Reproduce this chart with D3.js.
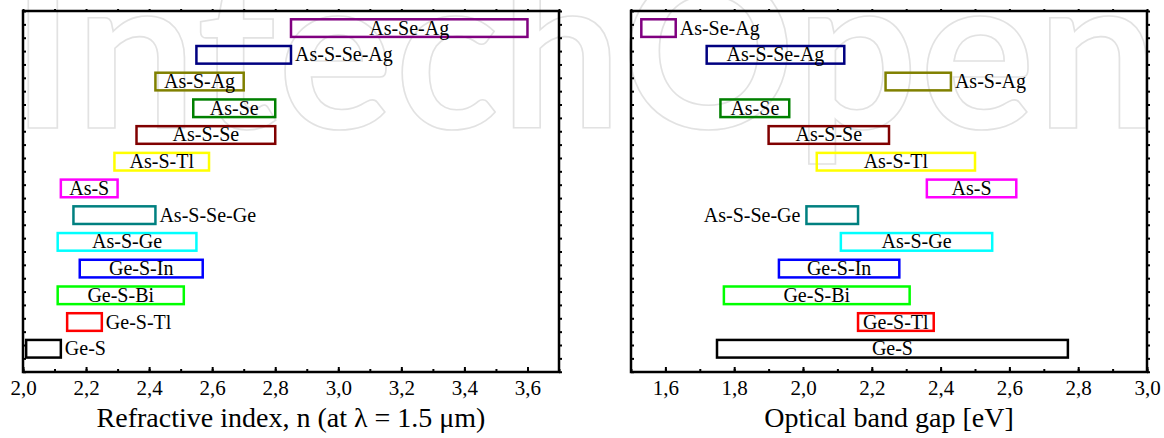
<!DOCTYPE html>
<html>
<head>
<meta charset="utf-8">
<script src="https://cdn.jsdelivr.net/npm/d3@7"></script>
<style>
  body { margin: 0; background: #fff; }
  svg { display: block; }
</style>
</head>
<body>
<svg id="chart" width="1164" height="438"></svg>
<script>
// rows from bottom (index 0) to top (index 12)
const glasses = ['Ge-S', 'Ge-S-Tl', 'Ge-S-Bi', 'Ge-S-In', 'As-S-Ge', 'As-S-Se-Ge', 'As-S',
                 'As-S-Tl', 'As-S-Se', 'As-Se', 'As-S-Ag', 'As-S-Se-Ag', 'As-Se-Ag'];
const glassColors = ['#000000', '#ff0000', '#00ff00', '#0000ff', '#00ffff', '#008080', '#ff00ff',
                     '#ffff00', '#800000', '#008000', '#808000', '#000080', '#800080'];

// refractive index ranges (at 1.5 um)
const refrLow  = [2.01, 2.14, 2.11, 2.18, 2.11, 2.16, 2.12, 2.29, 2.36, 2.54, 2.42, 2.55, 2.85];
const refrHigh = [2.12, 2.25, 2.51, 2.57, 2.55, 2.42, 2.30, 2.59, 2.80, 2.80, 2.70, 2.85, 3.60];
const refrLabelSide = ['right', 'right', 'in', 'in', 'in', 'right', 'in', 'in', 'in', 'in', 'in', 'right', 'in'];
const refrTicks = [2.0, 2.2, 2.4, 2.6, 2.8, 3.0, 3.2, 3.4, 3.6];

// optical band gap ranges (eV)
const gapLow  = [1.75, 2.16, 1.77, 1.93, 2.11, 2.01, 2.36, 2.04, 1.90, 1.76, 2.24, 1.72, 1.53];
const gapHigh = [2.77, 2.38, 2.31, 2.28, 2.55, 2.16, 2.62, 2.50, 2.25, 1.96, 2.43, 2.12, 1.63];
const gapLabelSide = ['in', 'in', 'in', 'in', 'in', 'left', 'in', 'in', 'in', 'in', 'right', 'in', 'right'];
const gapTicks = [1.6, 1.8, 2.0, 2.2, 2.4, 2.6, 2.8, 3.0];

const svg = d3.select('#chart');
const plotTop = 11, plotBottom = 372;
const serif = "'Liberation Serif'";
const fmt = d3.formatLocale({decimal: ',', thousands: '.', grouping: [3], currency: ['', '']}).format('.1f');

// faint publisher watermark behind everything
svg.append('text')
    .attr('x', 11)
    .attr('y', 128)
    .attr('textLength', 1147)
    .attr('lengthAdjust', 'spacing')
    .style('font-family', "'Lato'")
    .attr('font-weight', 700)
    .attr('font-size', 215)
    .attr('fill', 'none')
    .attr('stroke', '#e2e2e2')
    .attr('stroke-width', 1.6)
    .text('IntechOpen');

function styleAxis(g) {
    g.select('.domain').remove();
    g.style('font-family', serif).attr('font-size', 21);
    g.selectAll('.tick line').attr('stroke', '#000').attr('stroke-width', 2);
    g.selectAll('.tick text').attr('fill', '#000');
}

function drawPanel(cfg) {
    let x = d3.scaleLinear().domain(cfg.domain).range([cfg.left, cfg.right]);
    let y = d3.scaleLinear().domain([-0.87, 12.64]).range([plotBottom, plotTop]);
    let g = svg.append('g');

    let minor = d3.range(cfg.domain[0], cfg.domain[1] + 0.001, 0.1).map(v => +v.toFixed(1));
    let yTicks = d3.range(12.64, -0.87, -0.5);

    g.append('g')
        .attr('transform', 'translate(0,' + plotBottom + ')')
        .call(d3.axisBottom(x).tickValues(minor).tickSize(-3).tickSizeOuter(0).tickFormat(''))
        .call(styleAxis);
    g.append('g')
        .attr('transform', 'translate(0,' + plotBottom + ')')
        .call(d3.axisBottom(x).tickValues(cfg.ticks).tickSize(-5).tickSizeOuter(0).tickPadding(8).tickFormat(fmt))
        .call(styleAxis);
    g.append('g')
        .attr('transform', 'translate(0,' + plotTop + ')')
        .call(d3.axisTop(x).tickValues(minor).tickSize(2).tickSizeOuter(0).tickFormat(''))
        .call(styleAxis);
    g.append('g')
        .attr('transform', 'translate(' + cfg.left + ',0)')
        .call(d3.axisLeft(y).tickValues(yTicks).tickSize(-3).tickSizeOuter(0).tickFormat(''))
        .call(styleAxis);
    g.append('g')
        .attr('transform', 'translate(' + cfg.right + ',0)')
        .call(d3.axisRight(y).tickValues(yTicks).tickSize(3).tickSizeOuter(0).tickFormat(''))
        .call(styleAxis);

    g.append('rect')
        .attr('x', cfg.left)
        .attr('y', plotTop)
        .attr('width', cfg.right - cfg.left)
        .attr('height', plotBottom - plotTop)
        .attr('fill', 'none')
        .attr('stroke', '#000')
        .attr('stroke-width', 2.5);

    let boxH = 0.66;
    let rows = glasses.map((name, i) => ({
        name: name, i: i, lo: cfg.low[i], hi: cfg.high[i], side: cfg.side[i], color: glassColors[i]
    }));

    g.selectAll('rect.box')
        .data(rows)
        .enter()
        .append('rect')
            .attr('class', 'box')
            .attr('x', d => x(d.lo))
            .attr('y', d => y(d.i + boxH / 2))
            .attr('width', d => x(d.hi) - x(d.lo))
            .attr('height', d => y(d.i - boxH / 2) - y(d.i + boxH / 2))
            .attr('fill', 'none')
            .attr('stroke', d => d.color)
            .attr('stroke-width', 2.5);

    g.selectAll('text.lbl')
        .data(rows)
        .enter()
        .append('text')
            .attr('class', 'lbl')
            .attr('x', function(d) {
                if (d.side == 'right') return x(d.hi) + 4;
                if (d.side == 'left') return x(d.lo) - 6;
                return (x(d.lo) + x(d.hi)) / 2;
            })
            .attr('y', d => y(d.i) + 6.5)
            .attr('text-anchor', d => d.side == 'right' ? 'start' : d.side == 'left' ? 'end' : 'middle')
            .style('font-family', serif)
            .attr('font-size', 20)
            .attr('fill', '#000')
            .text(d => d.name);

    svg.append('text')
        .attr('x', (cfg.left + cfg.right) / 2)
        .attr('y', 427)
        .attr('text-anchor', 'middle')
        .style('font-family', serif)
        .attr('font-size', 28)
        .attr('fill', '#000')
        .text(cfg.title);
}

drawPanel({
    domain: [2.0, 3.7], left: 23, right: 559, ticks: refrTicks,
    low: refrLow, high: refrHigh, side: refrLabelSide,
    title: 'Refractive index, n (at \u03bb = 1.5 \u03bcm)'
});

drawPanel({
    domain: [1.5, 3.0], left: 631, right: 1147, ticks: gapTicks,
    low: gapLow, high: gapHigh, side: gapLabelSide,
    title: 'Optical band gap [eV]'
});
</script>
</body>
</html>
